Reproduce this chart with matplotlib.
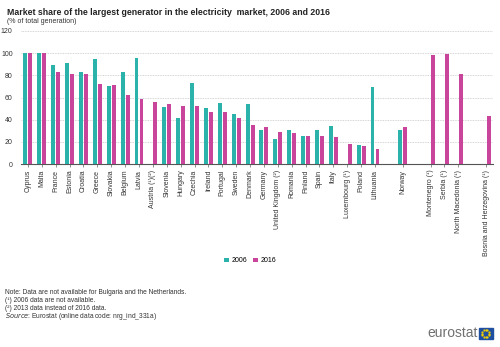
import matplotlib.pyplot as plt
import matplotlib.patches as mpatches
import numpy as np

plt.rcParams['font.family'] = ['Liberation Sans', 'DejaVu Sans']

# data
eu = ['Cyprus', 'Malta', 'France', 'Estonia', 'Croatia', 'Greece', 'Slovakia', 'Belgium',
      'Latvia', 'Austria (¹)(²)', 'Slovenia', 'Hungary', 'Czechia', 'Ireland', 'Portugal',
      'Sweden', 'Denmark', 'Germany', 'United Kingdom (²)', 'Romania', 'Finland', 'Spain',
      'Italy', 'Luxembourg (¹)', 'Poland', 'Lithuania']
efta = ['Norway']
cand = ['Montenegro (¹)', 'Serbia (¹)', 'North Macedonia (¹)']
pot = ['Bosnia and Herzegovina (¹)']

v2006 = [100, 100, 89, 91, 83, 94.6, 70, 82.6, 95.2, np.nan, 51.5, 41.3, 73.4, 50.9, 54.8,
         45.2, 53.9, 30.8, 22.5, 30.8, 25.7, 30.8, 34.4, np.nan, 17, 69.5,
         30.8,
         np.nan, np.nan, np.nan,
         np.nan]
v2016 = [100, 100, 82.6, 80.8, 81, 72, 71.5, 62.3, 58.7, 55.7, 53.9, 52.7, 52.4, 47, 47,
         41.6, 35, 33.2, 29, 27.8, 25.4, 25.4, 24, 17.7, 15.9, 13.8,
         33.2,
         97.9, 98.8, 81.4,
         43.4]

groups = [eu, efta, cand, pot]
labels = []
pos = []
p = 0
for g in groups:
    for c in g:
        labels.append(c)
        pos.append(p)
        p += 1
    p += 1
pos = np.array(pos)

teal = '#2bb2aa'
mag = '#c9459c'

fig = plt.figure(figsize=(5, 3.47), dpi=100)
ax = fig.add_axes([0.042, 0.527, 0.944, 0.384])

w = 0.28
ax.bar(pos - w / 2 - 0.04, v2006, w, color=teal, label='2006', zorder=3)
ax.bar(pos + w / 2 + 0.04, v2016, w, color=mag, label='2016', zorder=3)

ax.set_xlim(-0.5, 33.5)
ax.set_ylim(0, 120)
ax.set_yticks(range(0, 121, 20))
ax.yaxis.grid(True, color='#c8c8c8', linestyle=(0, (1, 1)), linewidth=0.6, zorder=0)
ax.set_xticks(pos)
ax.set_xticklabels(labels, rotation=90, fontsize=5, color='#333333')
ax.tick_params(axis='y', labelsize=5, length=0, pad=6, colors='#333333')
ax.tick_params(axis='x', length=2, width=0.5, color='#666666', pad=2)
for s in ['top', 'right', 'left']:
    ax.spines[s].set_visible(False)
ax.spines['bottom'].set_color('#555555')
ax.spines['bottom'].set_linewidth(0.8)

fig.text(0.014, 0.977, 'Market share of the largest generator in the electricity  market, 2006 and 2016',
         fontsize=6.3, fontweight='bold', va='top', color='#222222')
fig.text(0.014, 0.948, '(% of total generation)', fontsize=5, va='top', color='#333333')

fig.legend(loc='center', bbox_to_anchor=(0.5, 0.248), ncol=2, fontsize=5, frameon=False,
           handlelength=0.7, handleheight=0.7, handletextpad=0.4, columnspacing=0.8)

notes = ['Note: Data are not available for Bulgaria and the Netherlands.',
         '(¹) 2006 data are not available.',
         '(²) 2013 data instead of 2016 data.']
for i, t in enumerate(notes):
    fig.text(0.01, 1 - (292 + 8 * i) / 347, t, fontsize=4.8, va='center', color='#333333')
fig.text(0.01, 1 - 316 / 347, '$\\it{Source}$: Eurostat (online data code: nrg_ind_331a)',
         fontsize=4.8, va='center', color='#333333')

# eurostat logo
fig.text(0.955, 1 - 333 / 347, 'eurostat', fontsize=10, ha='right', va='center',
         color='#707070')
fig.patches.append(mpatches.Rectangle((0.957, 1 - 339 / 347), 0.028, 11 / 347,
                                      transform=fig.transFigure, color='#1f4fa0'))
ang = np.linspace(0, 2 * np.pi, 13)[:-1]
cx, cy = 0.971, 1 - 333.5 / 347
fig.lines.append(plt.Line2D(cx + 0.0075 * np.cos(ang), cy + 0.0108 * np.sin(ang),
                            transform=fig.transFigure, linestyle='none', marker='o',
                            markersize=0.6, color='#f5d000'))

plt.savefig('out.png', dpi=100)
